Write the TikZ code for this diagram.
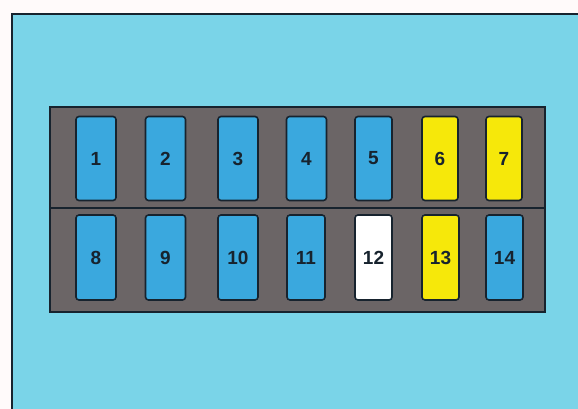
\documentclass[tikz,border=0pt]{standalone}
\usepackage{fontspec}
\setmainfont{Liberation Sans}
\definecolor{bgblue}{HTML}{7AD4E8}
\definecolor{fuseblue}{HTML}{3AA8DE}
\definecolor{panelgray}{HTML}{6B6566}
\definecolor{fuseyellow}{HTML}{F6E80A}
\definecolor{inkdark}{HTML}{17232E}
\begin{document}
\begin{tikzpicture}[x=1pt,y=-1pt,
  fuse/.style={draw=inkdark,line width=1.6pt,rounded corners=3pt,minimum width=40pt,minimum height=84pt,inner sep=0pt,font=\bfseries\fontsize{19}{19}\selectfont,text=inkdark},
  bluefuse/.style={fuse,fill=fuseblue},
  yelfuse/.style={fuse,fill=fuseyellow},
  whitefuse/.style={fuse,fill=white}]
\useasboundingbox (0,0) rectangle (578,409);
\fill[white!98!red] (0,0) rectangle (578,409);
\fill[bgblue] (12,14) rectangle (578,409);
\draw[inkdark,line width=2.4pt] (12,412) -- (12,14) -- (580,14);
\draw[inkdark,line width=1.6pt,fill=panelgray] (50,107) rectangle (545,312);
\draw[inkdark,line width=1.6pt] (50,208) -- (545,208);
% top row
\node[bluefuse] (f1) at (96,158.5) {1};
\node[bluefuse] (f2) at (165.5,158.5) {2};
\node[bluefuse] (f3) at (238,158.5) {3};
\node[bluefuse] (f4) at (306.5,158.5) {4};
\node[bluefuse,minimum width=37pt] (f5) at (373.5,158.5) {5};
\node[yelfuse,minimum width=36pt] (f6) at (440,158.5) {6};
\node[yelfuse,minimum width=36pt] (f7) at (504,158.5) {7};
% bottom row
\node[bluefuse,minimum height=85pt] (f8) at (96,257.5) {8};
\node[bluefuse,minimum height=85pt] (f9) at (165.5,257.5) {9};
\node[bluefuse,minimum height=85pt] (f10) at (238,257.5) {10};
\node[bluefuse,minimum height=85pt,minimum width=38pt] (f11) at (306,257.5) {11};
\node[whitefuse,minimum height=85pt,minimum width=37pt] (f12) at (373.5,257.5) {12};
\node[yelfuse,minimum height=85pt,minimum width=37pt] (f13) at (440.5,257.5) {13};
\node[bluefuse,minimum height=85pt,minimum width=37pt] (f14) at (504.5,257.5) {14};
\end{tikzpicture}
\end{document}
